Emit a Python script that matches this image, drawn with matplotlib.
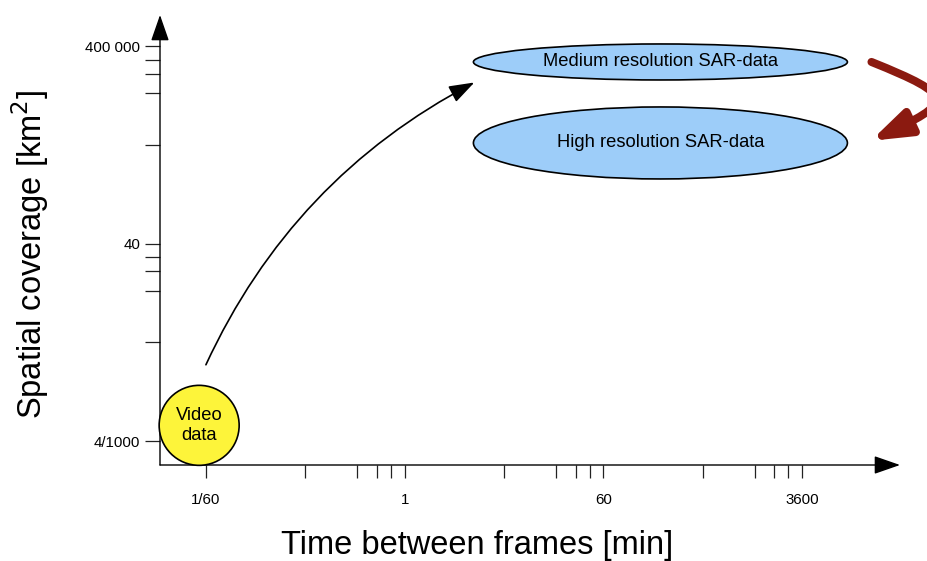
import numpy as np
import matplotlib.pyplot as plt
from matplotlib.patches import Ellipse, FancyArrowPatch
from matplotlib.path import Path
from matplotlib.transforms import ScaledTranslation, IdentityTransform

plt.rcParams["font.family"] = ["Liberation Sans", "DejaVu Sans"]

## axis ticks ##
x_major = [1 / 60, 1, 60, 3600]
x_major_labels = ["1/60", "1", "60", "3600"]
y_major = [4 / 1000, 40, 400000]
y_major_labels = ["4/1000", "40", "400 000"]
# minor ticks, as fraction of the (log) step between two majors
minor_frac = [0.5, 0.76, 0.86, 0.93]

## bubbles: time between frames [min], coverage [km2] ##
sar_names = ["Medium resolution SAR-data", "High resolution SAR-data"]
sar_time = [194, 194]
sar_cover = [1.9e5, 4.35e3]
video_name = "Video\ndata"
video_time = 0.0145
video_cover = 8.3e-3

## arrows (start, end) in data units ##
growth_arrow = [(1 / 60, 0.14), (4.2, 7.3e4)]
sar_arrow = [(15000, 1.9e5), (14800, 4.8e3)]


def minor_ticks(majors, step):
    ticks = []
    for m in majors[:-1]:
        ticks += [m * step ** f for f in minor_frac]
    return ticks


def add_bubble(ax, x, y, w, h, text, color):
    # size in inches, centred on a data point
    trans = ax.figure.dpi_scale_trans + ScaledTranslation(x, y, ax.transData)
    ax.add_patch(Ellipse((0, 0), w, h, transform=trans, facecolor=color,
                         edgecolor="black", lw=1.2, clip_on=False, zorder=3))
    ax.text(x, y, text, ha="center", va="center", fontsize=13.2, zorder=4)


def loop_arrow(ax, start, end, angle_a, angle_b, handle, **kw):
    # cubic curve between two data points, handles given in pixels
    p0 = ax.transData.transform(start)
    p3 = ax.transData.transform(end)
    a, b = np.radians(angle_a), np.radians(angle_b)
    p1 = p0 + handle * np.array([np.cos(a), np.sin(a)])
    p2 = p3 + handle * np.array([np.cos(b), np.sin(b)])
    path = Path([p0, p1, p2, p3], [Path.MOVETO, Path.CURVE4, Path.CURVE4, Path.CURVE4])
    arrow = FancyArrowPatch(path=path, transform=IdentityTransform(),
                            clip_on=False, **kw)
    ax.add_patch(arrow)


def main():
    fig = plt.figure(figsize=(9.28, 5.61), dpi=100)
    ax = fig.add_axes([160 / 928, 96 / 561, 740 / 928, 450 / 561])

    ax.set_xscale("log")
    ax.set_yscale("log")
    ax.set_xlim(60 ** -1.231, 60 ** 2.492)
    ax.set_ylim(10 ** -2.884, 10 ** 6.23)

    ax.set_xticks(x_major, x_major_labels)
    ax.set_xticks(minor_ticks(x_major, 60), minor=True)
    ax.set_yticks(y_major, y_major_labels)
    ax.set_yticks(minor_ticks(y_major, 1e4), minor=True)
    ax.xaxis.set_minor_formatter(plt.NullFormatter())
    ax.yaxis.set_minor_formatter(plt.NullFormatter())
    ax.tick_params(axis="x", which="both", length=9.5, width=0.9, pad=11,
                   labelsize=10.8, color="#222222")
    ax.tick_params(axis="y", which="both", length=10.8, width=0.9, pad=3.5,
                   labelsize=10.8, color="#222222")

    for s in ax.spines.values():
        s.set_visible(False)

    # axis lines with arrow heads
    head = "-|>,head_length=1.35,head_width=0.47"
    for end in [(1, 0), (0, 1)]:
        ax.annotate("", xy=end, xytext=(0, 0), xycoords="axes fraction",
                    arrowprops=dict(arrowstyle=head, color="black", lw=1.0,
                                    mutation_scale=12, shrinkA=0, shrinkB=0),
                    annotation_clip=False)

    ax.set_xlabel("Time between frames [min]", fontsize=23.5, va="center")
    ax.set_ylabel("Spatial coverage [km$^2$]", fontsize=23.5, va="center")
    ax.xaxis.set_label_coords(0.428, -0.178)
    ax.yaxis.set_label_coords(-0.176, 0.467)

    # bubbles
    add_bubble(ax, sar_time[0], sar_cover[0], 3.74, 0.36, sar_names[0], "#9dcdf9")
    add_bubble(ax, sar_time[1], sar_cover[1], 3.74, 0.72, sar_names[1], "#9dcdf9")
    add_bubble(ax, video_time, video_cover, 0.8, 0.8, video_name, "#fdf43a")

    # curved arrows
    ax.annotate("", xy=growth_arrow[1], xytext=growth_arrow[0],
                arrowprops=dict(arrowstyle="-|>,head_length=1.3,head_width=0.45",
                                color="black", lw=1.2, mutation_scale=12,
                                shrinkA=0, shrinkB=0,
                                connectionstyle="arc3,rad=-0.17"))
    loop_arrow(ax, sar_arrow[0], sar_arrow[1], -22, 25, 92,
               arrowstyle="-|>,head_length=0.58,head_width=0.2",
               mutation_scale=40, color="#8b1a10", lw=5.8)

    fig.savefig("out.png", dpi=100)


if __name__ == "__main__":
    main()
